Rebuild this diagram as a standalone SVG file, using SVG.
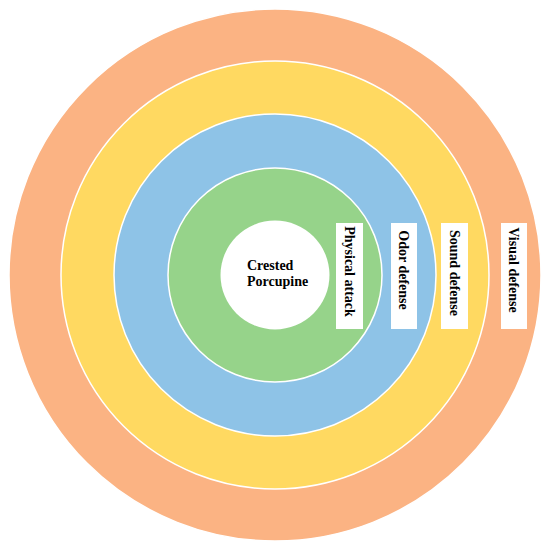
<svg xmlns="http://www.w3.org/2000/svg" width="550" height="551" viewBox="0 0 550 551">
<style>
.ring{stroke:#ffffff;stroke-width:1.5}
.box{fill:#ffffff}
.lbl{font-family:"Liberation Serif","Times New Roman",serif;font-weight:bold;font-size:14px;fill:#000000}
</style>
<rect width="550" height="551" fill="#ffffff"/>
<g id="visual-ring"><circle class="ring" cx="275" cy="275" r="266" fill="#FBB383"/></g>
<g id="sound-ring"><circle class="ring" cx="275" cy="275" r="214" fill="#FFD961"/></g>
<g id="odor-ring"><circle class="ring" cx="275" cy="275" r="161" fill="#8EC3E7"/></g>
<g id="physical-ring"><circle class="ring" cx="275" cy="275" r="107" fill="#96D38A"/></g>
<g id="center">
<circle cx="275" cy="275" r="54.5" fill="#ffffff"/>
<text class="lbl" x="247" y="270">Crested</text>
<text class="lbl" x="247" y="286">Porcupine</text>
</g>
<g id="physical-label">
<rect class="box" x="336" y="223" width="27" height="106"/>
<text class="lbl" text-anchor="middle" transform="translate(349.5,271.5) rotate(90)" x="0" y="5">Physical attack</text>
</g>
<g id="odor-label">
<rect class="box" x="391" y="223" width="26" height="106"/>
<text class="lbl" text-anchor="middle" transform="translate(404,270) rotate(90)" x="0" y="5">Odor defense</text>
</g>
<g id="sound-label">
<rect class="box" x="441" y="223" width="27" height="106"/>
<text class="lbl" text-anchor="middle" transform="translate(454.5,273) rotate(90)" x="0" y="5">Sound defense</text>
</g>
<g id="visual-label">
<rect class="box" x="501" y="223" width="26" height="106"/>
<text class="lbl" text-anchor="middle" transform="translate(514,270) rotate(90)" x="0" y="5">Visual defense</text>
</g>
<g id="connectors"></g>
</svg>
